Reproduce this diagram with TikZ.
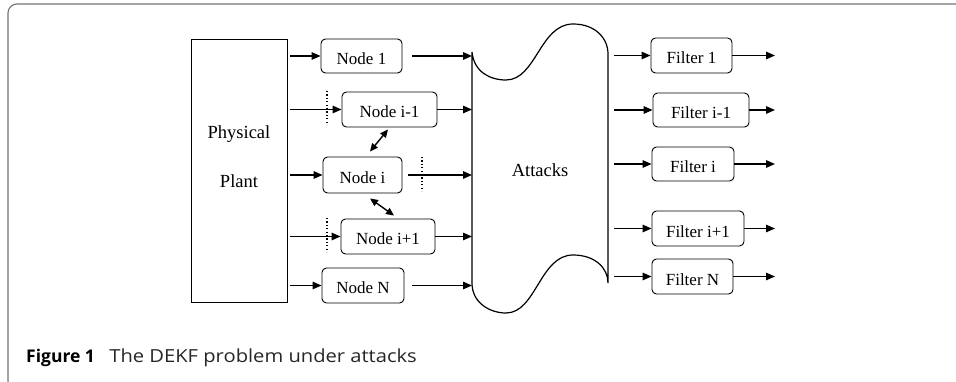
\documentclass[tikz,border=0pt]{standalone}
\usepackage{fontspec}
\setmainfont{Liberation Serif}
\newfontfamily\capfont{Open Sans}
\newfontfamily\capwide[FakeStretch=1.12]{Open Sans}
\usetikzlibrary{arrows.meta,calc}

\tikzset{
  nbox/.style={draw, rounded corners=4.5pt, line width=0.9pt, inner sep=0pt,
    text height=17pt, text depth=0pt, font=\fontsize{17}{20}\selectfont},
  big/.style={inner sep=0pt, anchor=base, font=\fontsize{18.5}{22}\selectfont},
  arr/.style={line width=1.4pt, -{Triangle[length=9pt,width=7.5pt]}},
  darr/.style={line width=1.4pt, {Triangle[length=8pt,width=7pt]}-{Triangle[length=8pt,width=7pt]}},
  dotline/.style={line width=1.4pt, dash pattern=on 1.2pt off 2.2pt},
  frame/.style={draw=black!55, line width=1.1pt, rounded corners=9pt},
  captxt/.style={anchor=base west, inner sep=0pt},
}

\begin{document}
\begin{tikzpicture}[x=1pt, y=-1pt]
\useasboundingbox (0,0) rectangle (956,382);

% outer panel border
\begin{scope}
  \clip (0,0) rectangle (956,382);
  \draw[frame] (8,4) rectangle (990,390);
\end{scope}

% physical plant
\node[draw, line width=0.9pt, minimum width=96, minimum height=263, inner sep=0pt] (plant) at (239,170.5) {};
\node[big] (phy) at (239,139) {Physical};
\node[big] (pla) at (239,188) {Plant};

% sensor nodes
\node[nbox, minimum width=81, minimum height=34] (n1)   at (361.5,56)  {Node 1};
\node[nbox, minimum width=95, minimum height=35] (nim1) at (389.5,109.5) {Node i-1};
\node[nbox, minimum width=79, minimum height=36] (ni)   at (362.5,175) {Node i};
\node[nbox, minimum width=94, minimum height=35] (nip1) at (388,236.5) {Node i+1};
\node[nbox, minimum width=82, minimum height=35] (nN)   at (363,285.5) {Node N};

% attacks channel (punched tape)
\draw[line width=1.2pt]
  (472,52) .. controls (474,72) and (490,80) .. (506,80)
  .. controls (536,80) and (540,24) .. (573,24)
  .. controls (595,24) and (608,38) .. (608,54)
  -- (608,283)
  .. controls (608,268) and (595,255) .. (573,255)
  .. controls (540,255) and (536,313) .. (506,313)
  .. controls (490,313) and (472,303) .. (472,283) -- cycle;
\node[big] (att) at (540,177) {Attacks};
\coordinate (attL) at (472,0);
\coordinate (attR) at (608,0);

% filters
\node[nbox, minimum width=81, minimum height=35] (f1)   at (691.5,55.5) {Filter 1};
\node[nbox, minimum width=96, minimum height=34] (fim1) at (701,110)    {Filter i-1};
\node[nbox, minimum width=82, minimum height=34] (fi)   at (693,164)    {Filter i};
\node[nbox, minimum width=92, minimum height=35] (fip1) at (698,228.5)  {Filter i+1};
\node[nbox, minimum width=81, minimum height=35] (fN)   at (692.5,276.5) {Filter N};
\coordinate (outR) at (775,0);

% plant -> nodes
\foreach \n in {n1,nim1,ni,nip1,nN}
  \draw[arr, shorten <=3pt] (plant.east |- \n.west) -- (\n.west);

% nodes -> attacks
\draw[arr, shorten <=10pt] (n1.east)   -- (attL |- n1.east);
\draw[arr]                 (nim1.east) -- (attL |- nim1.east);
\draw[arr, shorten <=6pt]  (ni.east)   -- (attL |- ni.east);
\draw[arr]                 (nip1.east) -- (attL |- nip1.east);
\draw[arr, shorten <=8pt]  (nN.east)   -- (attL |- nN.east);

% dotted separators
\draw[dotline] (327,91)  -- (327,125);
\draw[dotline] (327,218) -- (327,252);
\draw[dotline] (422,157) -- (422,191);

% neighbour exchange
\draw[darr] ($(nim1.south)+(-1.5,2)$) -- ($(ni.north)+(7.5,-5)$);
\draw[darr] ($(ni.south)+(7.5,5)$) -- ($(nip1.north)+(6,-3)$);

% attacks -> filters -> outputs
\foreach \f in {f1,fim1,fi,fip1,fN}{
  \draw[arr, shorten <=6pt] (attR |- \f.west) -- (\f.west);
  \draw[arr] (\f.east) -- (outR |- \f.east);
}

% caption
\node[captxt, font=\capfont\fontsize{17.5}{21}\selectfont\bfseries] (capA) at (26,362) {Figure 1};
\node[captxt, font=\capwide\fontsize{18}{21}\selectfont, text=black!85] (capB) at ([xshift=14pt]capA.base east) {The DEKF problem under attacks};
\end{tikzpicture}
\end{document}
